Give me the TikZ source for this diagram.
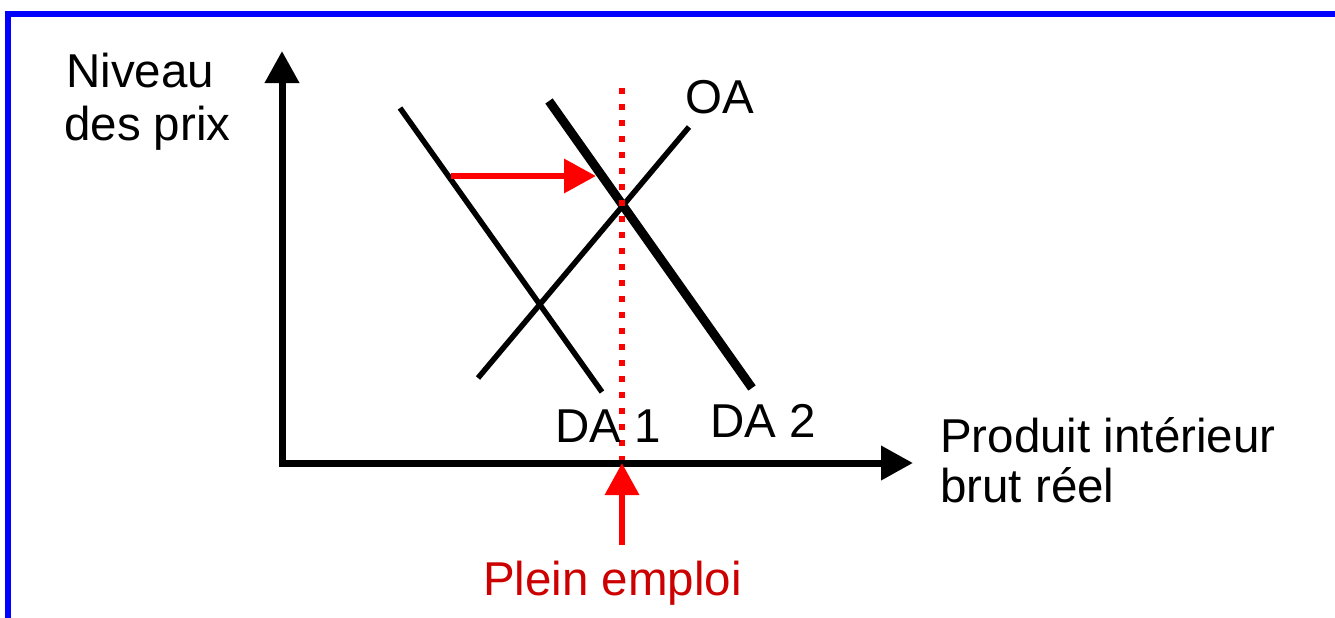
\documentclass[tikz,border=0pt]{standalone}
\usepackage{fontspec}
\setmainfont{Liberation Sans}
\usetikzlibrary{arrows.meta}
\definecolor{frameblue}{RGB}{0,0,255}
\definecolor{darkred}{RGB}{204,0,0}
\begin{document}
\begin{tikzpicture}[x=1pt,y=-1pt,
  lbl/.style={anchor=base west,inner sep=0pt,font=\fontsize{47.5}{52}\selectfont},
  axis/.style={line width=7pt,-{Triangle[length=32pt,width=33pt]}},
  curve/.style={line width=5.5pt},
  thickcurve/.style={line width=9pt},
  redarrow/.style={red,line width=6.5pt,-{Triangle[length=32pt,width=33pt]}},
  fullemp/.style={red,line width=6pt,dash pattern=on 6pt off 10pt}]
\useasboundingbox (0,0) rectangle (1335,618);
\clip (0,0) rectangle (1335,618);
% frame
\draw[frameblue,line width=6pt] (8,700) -- (8,14) -- (1400,14);
% coordinates
\coordinate (O) at (282,463);
\coordinate (ytip) at (282,51);
\coordinate (xtip) at (913,463);
\coordinate (da1a) at (400,108);
\coordinate (da1b) at (602,392);
\coordinate (da2a) at (549,101);
\coordinate (da2b) at (752,388);
\coordinate (oaa) at (478,378);
\coordinate (oab) at (689,127);
\coordinate (pe1) at (622,88);
\coordinate (pe2) at (622,463);
\coordinate (sh1) at (451,176);
\coordinate (sh2) at (596,176);
\coordinate (up1) at (622,545);
\coordinate (up2) at (622,463);
% curves
\draw[curve] (da1a) -- (da1b);
\draw[thickcurve] (da2a) -- (da2b);
\draw[curve] (oaa) -- (oab);
% full employment line
\draw[fullemp] (pe1) -- (pe2);
% axes
\draw[axis] (O) -- (ytip);
\draw[axis] ([xshift=-3.5pt]O) -- (xtip);
% red arrows
\draw[redarrow] (sh1) -- (sh2);
\draw[redarrow] (up1) -- (up2);
% labels
\node[lbl] (niv1) at (66,87) {Niveau};
\node[lbl] (niv2) at (64,140) {des prix};
\node[lbl] (oa) at (685,113) {OA};
\node[lbl] (da1) at (555,442) {DA 1};
\node[lbl] (da2) at (710,437) {DA 2};
\node[lbl] (pib1) at (940,452) {Produit intérieur};
\node[lbl] (pib2) at (940,502) {brut réel};
\node[lbl,text=darkred] (plein) at (483,595) {Plein emploi};
\end{tikzpicture}
\end{document}
